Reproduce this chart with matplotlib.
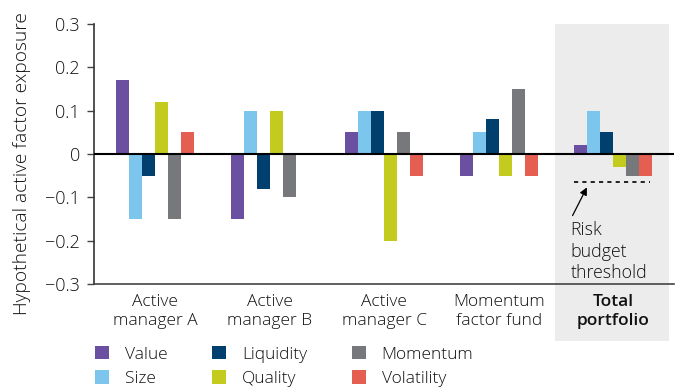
import matplotlib
matplotlib.use("Agg")
import matplotlib.pyplot as plt
import numpy as np
from matplotlib.patches import Rectangle

plt.rcParams["font.family"] = ["Open Sans", "DejaVu Sans"]
plt.rcParams["font.weight"] = "light"
plt.rcParams["axes.unicode_minus"] = True

# --- data ---
GROUPS = ["Active\nmanager A", "Active\nmanager B", "Active\nmanager C",
          "Momentum\nfactor fund", "Total\nportfolio"]
FACTORS = ["Value", "Size", "Liquidity", "Quality", "Momentum", "Volatility"]
value = [0.17, -0.15, 0.05, -0.05, 0.02]
size = [-0.15, 0.10, 0.10, 0.05, 0.10]
liquidity = [-0.05, -0.08, 0.10, 0.08, 0.05]
quality = [0.12, 0.10, -0.20, -0.05, -0.03]
momentum = [-0.15, -0.10, 0.05, 0.15, -0.05]
volatility = [0.05, 0.0, -0.05, -0.05, -0.05]
RISK_THRESHOLD = -0.065

COLORS = ["#6b50a2", "#7cc6ee", "#003f6e", "#c3cb1f", "#77787b", "#e55e52"]
TEXT = "#111111"

series = [value, size, liquidity, quality, momentum, volatility]

fig = plt.figure(figsize=(6.8, 3.87), dpi=100)
ax = fig.add_axes([0.138, 0.266, 0.853, 0.672])

x = np.arange(len(GROUPS))
w = 0.1135
for i, (vals, name, col) in enumerate(zip(series, FACTORS, COLORS)):
    ax.bar(x + (i - 2.5) * w, vals, w, color=col, label=name, zorder=3,
           linewidth=0)

# shaded total-portfolio column, reaching down behind the tick labels
ax.add_patch(Rectangle((3.49, -0.432), 0.995, 0.732, facecolor="#ececec",
                       edgecolor="none", clip_on=False, zorder=0))

ax.axhline(0, color="black", linewidth=1.5, zorder=4)

# risk budget threshold
ax.plot([3.66, 4.32], [RISK_THRESHOLD, RISK_THRESHOLD], color="black",
        linewidth=1.2, linestyle=(0, (2.5, 2.5)), zorder=4)
ax.annotate("", xy=(3.77, -0.077), xytext=(3.645, -0.142),
            arrowprops=dict(arrowstyle="-|>", color="black", lw=0.9,
                            mutation_scale=11, shrinkA=0, shrinkB=0),
            zorder=5)
ax.text(3.625, -0.155, "Risk\nbudget\nthreshold", ha="left", va="top",
        fontsize=12.8, color=TEXT, linespacing=1.25, zorder=5)

ax.set_xlim(-0.537, 4.53)
ax.set_ylim(-0.3, 0.3)
ax.set_yticks([0.3, 0.2, 0.1, 0, -0.1, -0.2, -0.3])
ax.set_yticklabels(["0.3", "0.2", "0.1", "0", "\u22120.1", "\u22120.2", "\u22120.3"])
ax.set_xticks(x)
ax.set_xticklabels(GROUPS, fontsize=12.5, color=TEXT, linespacing=1.25)
ax.get_xticklabels()[-1].set_fontweight("semibold")
ax.tick_params(axis="x", length=0, pad=7)
ax.tick_params(axis="y", labelsize=13, labelcolor=TEXT, length=5,
               width=1.0, color="#444444", pad=5)

fig.text(22 / 680, 1 - 164 / 387, "Hypothetical active factor exposure",
         rotation=90, ha="center", va="center", fontsize=13.8, color=TEXT)

for s in ["top", "right"]:
    ax.spines[s].set_visible(False)
ax.spines["left"].set_color("#333333")
ax.spines["left"].set_linewidth(1.2)
ax.spines["bottom"].set_color("#444444")
ax.spines["bottom"].set_linewidth(1.2)
ax.spines["bottom"].set_zorder(4)

fig.legend(loc="upper left", bbox_to_anchor=(95 / 680, 1 - 346 / 387),
           ncol=3, frameon=False, fontsize=12.5, handlelength=0.8,
           handleheight=0.8, handletextpad=0.9, columnspacing=2.6,
           labelspacing=0.45, borderpad=0, borderaxespad=0,
           labelcolor=TEXT)

fig.savefig("out.png", dpi=100)
